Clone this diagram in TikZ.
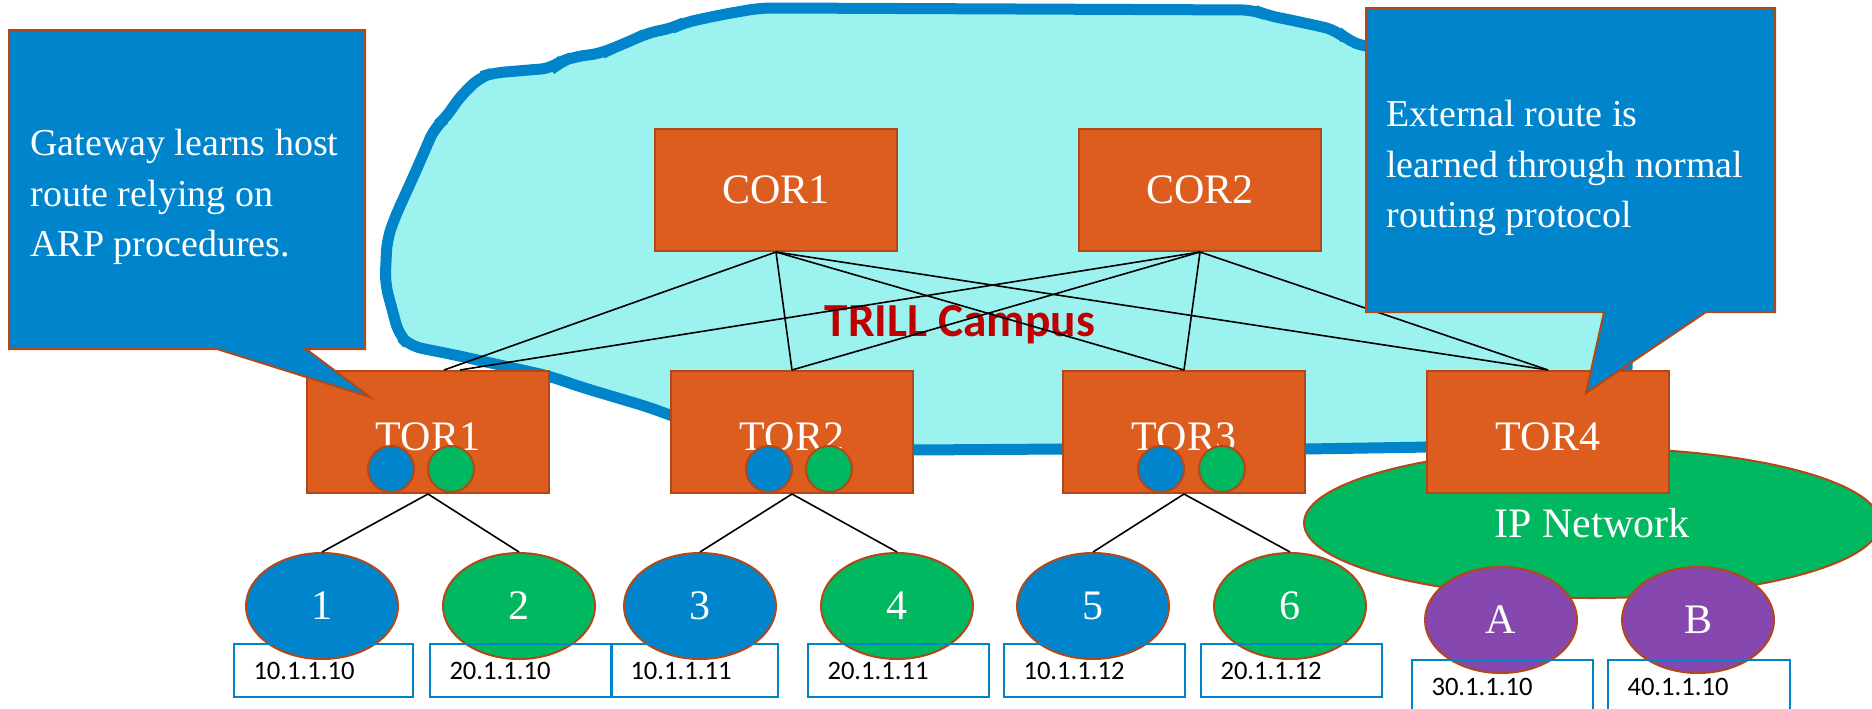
\documentclass[tikz,border=0pt]{standalone}
\usepackage{fontspec}
\setmainfont{Liberation Serif}
\newfontfamily\calibri{Carlito}
\usepackage{xcolor}
\usepackage{tikz}
\usetikzlibrary{shapes.geometric}
\definecolor{boxcolor}{RGB}{220, 93, 30}
\definecolor{boxborder}{RGB}{178, 72, 24}
\definecolor{cloudfill}{RGB}{155, 242, 239}
\definecolor{cloudline}{RGB}{0, 132, 202}
\definecolor{hostblue}{RGB}{0, 132, 204}
\definecolor{hostgreen}{RGB}{0, 184, 96}
\definecolor{hostpurple}{RGB}{134, 72, 175}
\definecolor{trillred}{RGB}{192, 0, 0}
\tikzstyle{switch} = [rectangle, minimum width=121pt, minimum height=61pt, draw=boxborder,
                      fill=boxcolor, line width=1pt, text=white, font=\fontsize{21}{25}\selectfont]
\tikzstyle{port} = [circle, minimum size=23pt, inner sep=0pt, draw=boxborder, line width=1pt]
\tikzstyle{host} = [ellipse, minimum width=76pt, minimum height=53pt, draw=boxborder,
                    line width=1pt, text=white, font=\fontsize{21}{25}\selectfont]
\tikzstyle{addr} = [rectangle, anchor=north west, minimum height=26.5pt, inner xsep=9.75pt,
                    align=left, draw=hostblue, line width=1pt, font=\calibri\fontsize{13.3}{15}\selectfont]
\tikzstyle{link} = [draw, line width=0.8pt]
\tikzstyle{callout} = [fill=hostblue, draw=boxborder, line width=1pt]
\tikzstyle{note} = [anchor=west, inner sep=0pt, align=left, text=white, font=\fontsize{19}{25.25}\selectfont]

\begin{document}
\begin{tikzpicture}[x=0.5pt, y=-0.5pt]
    \clip (0,0) rectangle (1872,708);

    % TRILL campus cloud
    \draw[cloudline, fill=cloudfill, line width=5.5pt, rounded corners=6pt]
        (780,8) -- (1254,10) -- (1266,15) -- (1300,22) -- (1336,30) -- (1347,40) -- (1366,47)
        -- (1500,60) -- (1600,110) -- (1627,200) -- (1627,380) -- (1600,425) -- (1520,440)
        -- (1430,447) -- (1305,449) -- (1063,449) -- (915,450) -- (760,444) -- (700,426)
        -- (648,407) -- (581,387) -- (549,376) -- (455,355) -- (410,346) -- (399,335)
        -- (385,283) -- (387,240) -- (395,217) -- (415,173) -- (435,127) -- (447,117)
        -- (457,100) -- (480,77) -- (493,73) -- (553,68) -- (560,62) -- (573,57) -- (603,53)
        -- (613,48) -- (633,40) -- (647,33) -- (673,28) -- (683,23) -- (720,15) -- (760,8) -- cycle;
    \node[text=trillred, font=\calibri\bfseries\fontsize{23.7}{28}\selectfont] (campus) at (960,325) {TRILL Campus};

    % core and top of rack switches
    \node[switch] (cor1) at (776,190) {COR1};
    \node[switch] (cor2) at (1200,190) {COR2};
    \node[ellipse, minimum width=288pt, minimum height=75pt, draw=boxborder, line width=1pt,
          fill=hostgreen, text=white, font=\fontsize{21}{25}\selectfont] (ipnet) at (1592,523) {IP Network};
    \node[switch, text height=19pt] (tor1) at (428,432) {TOR1};
    \node[switch, text height=19pt] (tor2) at (792,432) {TOR2};
    \node[switch, text height=19pt] (tor3) at (1184,432) {TOR3};
    \node[switch, text height=19pt] (tor4) at (1548,432) {TOR4};
    \node[port, fill=hostblue] (p1b) at (391,469) {};
    \node[port, fill=hostgreen] (p1g) at (451,469) {};
    \node[port, fill=hostblue] (p2b) at (769,469) {};
    \node[port, fill=hostgreen] (p2g) at (829,469) {};
    \node[port, fill=hostblue] (p3b) at (1161,469) {};
    \node[port, fill=hostgreen] (p3g) at (1222,469) {};
    \draw[link] (cor1.south) -- ([xshift=8pt]tor1.north);
    \draw[link] (cor2.south) -- ([xshift=16pt]tor1.north);
    \foreach \c in {cor1, cor2}
        \foreach \t in {tor2, tor3, tor4}
            \draw[link] (\c.south) -- (\t.north);

    % hosts and addresses
    \foreach \n/\x/\y/\col/\lab in {h1/322/606/hostblue/1, h2/519/606/hostgreen/2,
            h3/700/606/hostblue/3, h4/897/606/hostgreen/4, h5/1093/606/hostblue/5,
            h6/1290/606/hostgreen/6, hA/1501/620/hostpurple/A, hB/1698/620/hostpurple/B}
        \node[host, fill=\col] (\n) at (\x,\y) {\lab};
    \draw[link] (tor1.south) -- (h1.north);
    \draw[link] (tor1.south) -- (h2.north);
    \draw[link] (tor2.south) -- (h3.north);
    \draw[link] (tor2.south) -- (h4.north);
    \draw[link] (tor3.south) -- (h5.north);
    \draw[link] (tor3.south) -- (h6.north);
    \foreach \n/\x/\y/\w/\ip in {a1/233/643/70/10.1.1.10, a2/429/643/71.5/20.1.1.10,
            a3/610/643/64/10.1.1.11, a4/807/643/71/20.1.1.11, a5/1003/643/71/10.1.1.12,
            a6/1200/643/71/20.1.1.12, aA/1411/659/71/30.1.1.10, aB/1607/659/71.5/40.1.1.10}
        \node[addr, text width=\w pt] (\n) at (\x,\y) {\ip};

    % callouts
    \draw[callout] (9,30) -- (365,30) -- (365,349) -- (306,349) -- (370,397) -- (217,349) -- (9,349) -- cycle;
    \node[note] (gwnote) at (30,197) {Gateway learns host\\route relying on\\ARP procedures.};
    \draw[callout] (1366,8) -- (1775,8) -- (1775,312) -- (1706,312) -- (1586,393) -- (1604,312) -- (1366,312) -- cycle;
    \node[note] (extnote) at (1386,168) {External route is\\learned through normal\\routing protocol};
\end{tikzpicture}
\end{document}
